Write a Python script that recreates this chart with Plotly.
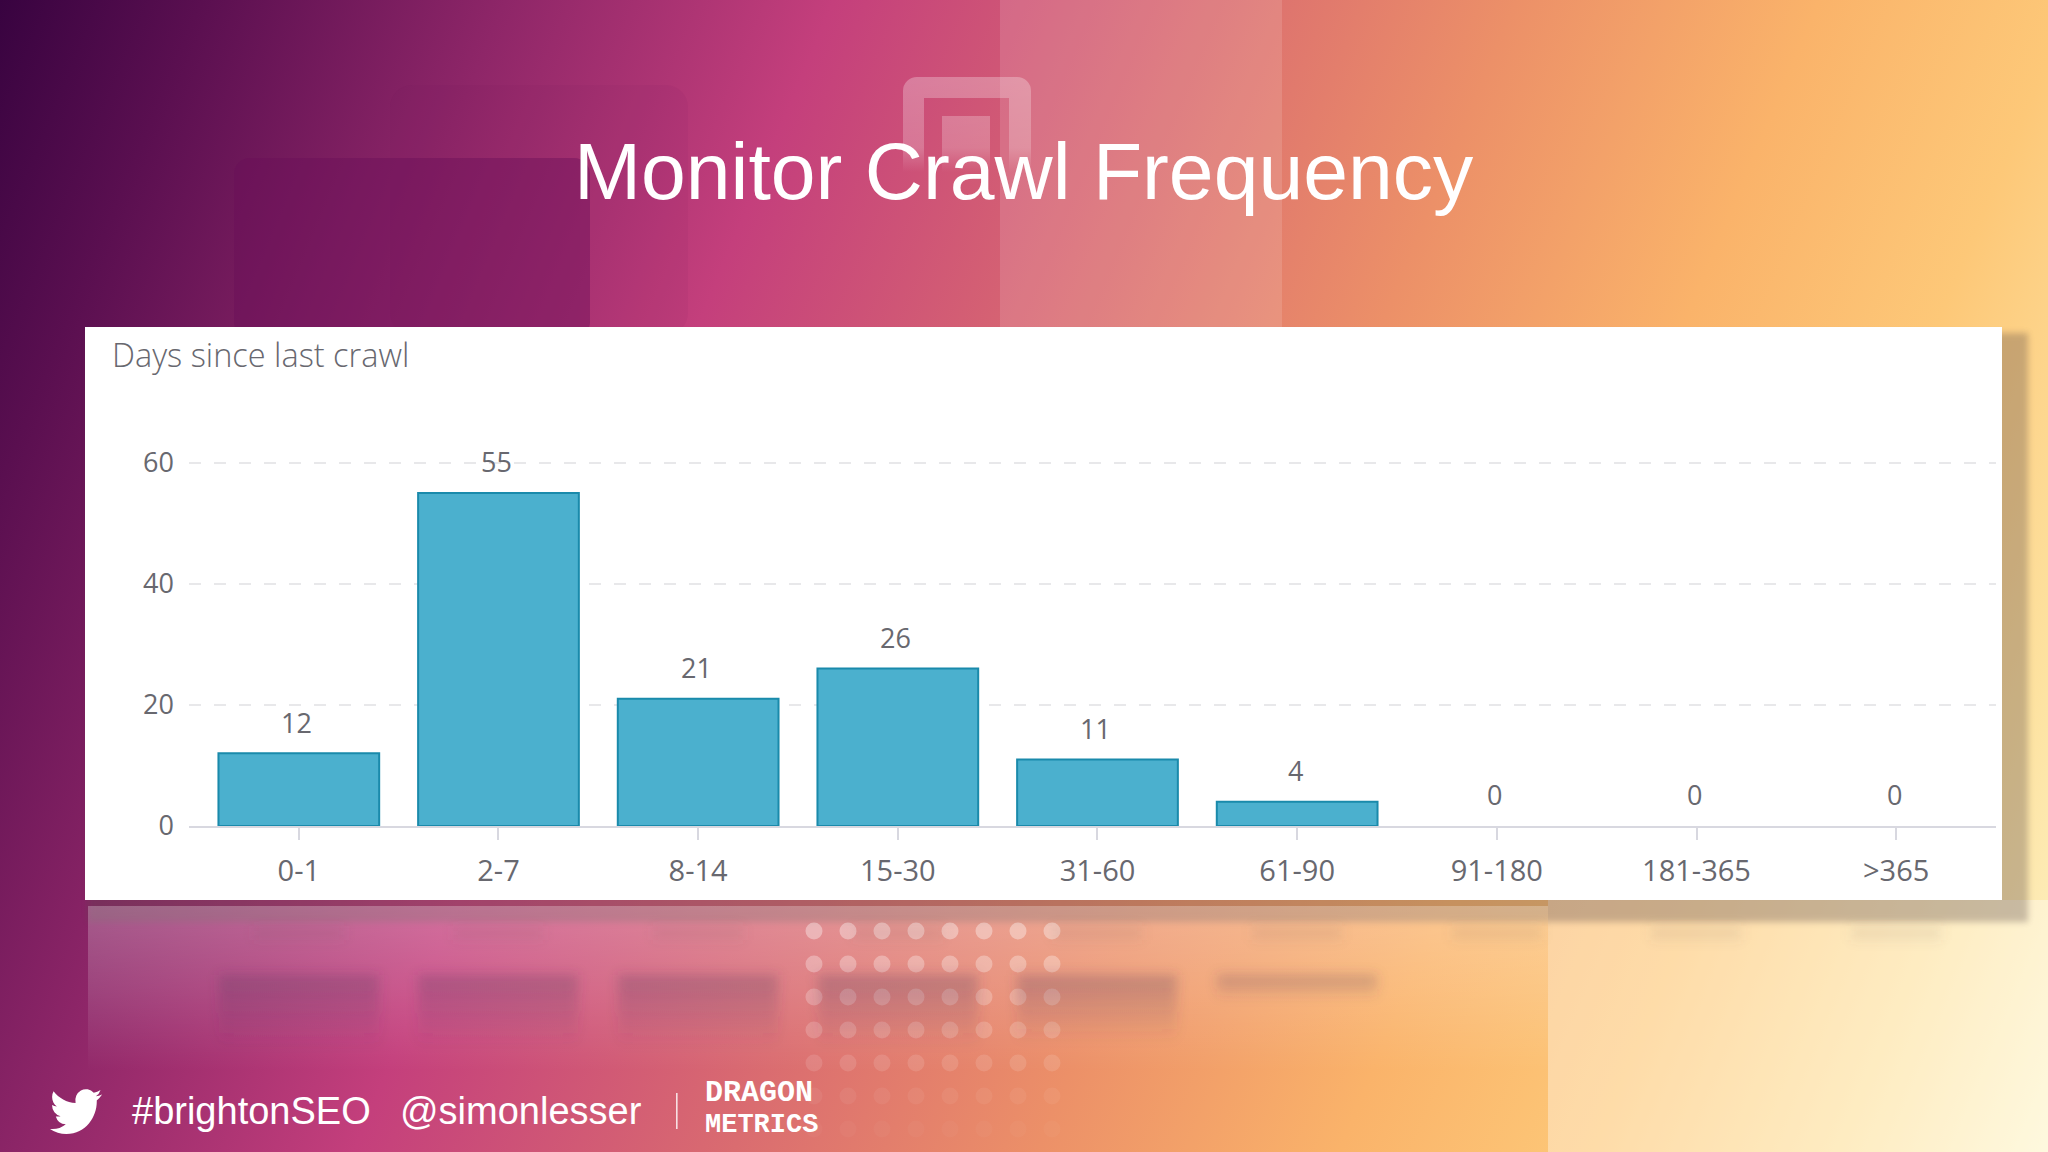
import base64
import plotly.graph_objects as go

# chart data
categories = ["0-1", "2-7", "8-14", "15-30", "31-60", "61-90", "91-180", "181-365", ">365"]
crawl_counts = [12, 55, 21, 26, 11, 4, 0, 0, 0]
y_ticks = [0, 20, 40, 60]

title_text = "Monitor Crawl Frequency"
card_title = "Days since last crawl"
hashtag = "#brightonSEO"
handle = "@simonlesser"
logo_lines = ["DRAGON", "METRICS"]

W, H = 2048, 1152
CARD = (85, 327, 2002, 900)
PLOT_X = (189, 1996)
Y_ZERO = 826
PX_PER_UNIT = 6.055
Y_TOP = 60.4  # a bit over 60 so the top gridline still gets drawn
X_RANGE = [-0.55, 8.5]

BIRD = ("M23.953 4.57a10 10 0 01-2.825.775 4.958 4.958 0 002.163-2.723c-.951.555-2.005.959-3.127 1.184"
        "a4.92 4.92 0 00-8.384 4.482C7.69 8.095 4.067 6.13 1.64 3.162a4.822 4.822 0 00-.666 2.475"
        "c0 1.71.87 3.213 2.188 4.096a4.904 4.904 0 01-2.228-.616v.06a4.923 4.923 0 003.946 4.827"
        " 4.996 4.996 0 01-2.212.085 4.936 4.936 0 004.604 3.417 9.867 9.867 0 01-6.102 2.105"
        "c-.39 0-.779-.023-1.17-.067a13.995 13.995 0 007.557 2.209c9.053 0 13.998-7.496 13.998-13.985"
        " 0-.21 0-.42-.015-.63A9.935 9.935 0 0024 4.59z")


# slide artwork behind the chart, drawn as one svg picture
def background_svg():
    stops = [(0, "#380340"), (0.08, "#5a0f50"), (0.2, "#8e2668"), (0.33, "#c43f7c"),
             (0.48, "#da6c70"), (0.6, "#ec9068"), (0.72, "#fab36a"), (0.82, "#fdc878"),
             (0.92, "#fde2a0"), (1, "#fdf5cc")]
    stop_tags = "".join(f'<stop offset="{o}" stop-color="{c}"/>' for o, c in stops)
    parts = [
        f'<svg xmlns="http://www.w3.org/2000/svg" width="{W}" height="{H}" viewBox="0 0 {W} {H}">',
        '<defs>',
        f'<linearGradient id="bg" gradientUnits="userSpaceOnUse" x1="0" y1="0" x2="2153" y2="898">{stop_tags}</linearGradient>',
        '<linearGradient id="refl" x1="0" y1="0" x2="0" y2="1">'
        '<stop offset="0" stop-color="#5a3a60" stop-opacity="0.3"/>'
        '<stop offset="1" stop-color="#5a3a60" stop-opacity="0"/></linearGradient>',
        '<linearGradient id="haze" x1="0" y1="0" x2="0" y2="1">'
        '<stop offset="0" stop-color="#ffffff" stop-opacity="0.26"/>'
        '<stop offset="0.5" stop-color="#ffffff" stop-opacity="0.14"/>'
        '<stop offset="1" stop-color="#ffffff" stop-opacity="0"/></linearGradient>',
        '<linearGradient id="icon" gradientUnits="userSpaceOnUse" x1="0" y1="75" x2="0" y2="172">'
        '<stop offset="0" stop-color="#ffffff" stop-opacity="0.28"/>'
        '<stop offset="0.75" stop-color="#ffffff" stop-opacity="0.22"/>'
        '<stop offset="1" stop-color="#ffffff" stop-opacity="0"/></linearGradient>',
        '<filter id="blur" x="-20%" y="-20%" width="140%" height="140%"><feGaussianBlur stdDeviation="6"/></filter>',
        '<filter id="soft" x="-5%" y="-5%" width="110%" height="110%"><feGaussianBlur stdDeviation="3"/></filter>',
        '</defs>',
        f'<rect width="{W}" height="{H}" fill="url(#bg)"/>',
        # ghost panels at the top
        '<rect x="1000" y="0" width="282" height="327" fill="#ffffff" opacity="0.13"/>',
        '<rect x="390" y="85" width="298" height="250" rx="22" fill="#6a0f58" opacity="0.06"/>',
        '<rect x="234" y="158" width="356" height="180" rx="16" fill="#6a0f58" opacity="0.42"/>',
        # frame icon, open at the bottom where it fades out
        '<path fill-rule="evenodd" fill="url(#icon)" d="M903 172V91a14 14 0 0 1 14-14h100a14 14 0 0 1 14 14V172Z'
        'M924 172H1009V98H924Z"/>',
        '<rect x="942" y="116" width="48" height="56" fill="url(#icon)"/>',
        # lighter panel bottom right
        '<rect x="1548" y="900" width="500" height="252" fill="#ffffff" opacity="0.36"/>',
        # card shadow, the card itself covers most of it
        '<rect x="88" y="333" width="1940" height="589" fill="#5a4a48" opacity="0.32" filter="url(#soft)"/>',
        # washed out reflection under the card
        '<rect x="88" y="906" width="1460" height="165" fill="url(#haze)"/>',
    ]
    # dots
    for row in range(7):
        for col in range(8):
            cx = 814 + col * 34
            cy = 931 + row * 33
            op = max(0.36 - row * 0.06, 0.03)
            parts.append(f'<circle cx="{cx:.1f}" cy="{cy:.1f}" r="8.5" fill="#ffffff" opacity="{op:.2f}"/>')
    # mirrored chart below the card
    unit = (PLOT_X[1] - PLOT_X[0]) / (X_RANGE[1] - X_RANGE[0])
    parts.append('<g filter="url(#blur)">')
    for i, v in enumerate(crawl_counts):
        cx = PLOT_X[0] + (i - X_RANGE[0]) * unit
        parts.append(f'<rect x="{cx - 45:.0f}" y="926" width="90" height="14" fill="#6a5a60" opacity="0.1"/>')
        if v > 0:
            h = min(v * 6.05, 72)
            parts.append(f'<rect x="{cx - 80:.0f}" y="975" width="160" height="{h:.0f}" fill="url(#refl)"/>')
    parts.append('</g>')
    parts.append(f'<path d="{BIRD}" fill="#ffffff" transform="translate(50 1084) scale(2.17 2.3)"/>')
    parts.append('<rect x="676" y="1093" width="1.6" height="36" fill="#ffffff" opacity="0.8"/>')
    parts.append('</svg>')
    return "".join(parts)


bg_uri = "data:image/svg+xml;base64," + base64.b64encode(background_svg().encode()).decode()

fig = go.Figure(go.Bar(
    x=categories,
    y=crawl_counts,
    width=0.805,
    marker=dict(color="#4bb0ce", line=dict(color="#1a8aab", width=[2 if v else 0 for v in crawl_counts])),
    showlegend=False,
    hoverinfo="x+y",
))

tick_font = dict(family="Open Sans", size=27, color="#68686f")


def slide_text(px, py, text, font, xanchor="left"):
    return dict(x=px / W, y=1 - py / H, xref="paper", yref="paper", text=text, showarrow=False,
                xanchor=xanchor, yanchor="middle", font=font)


# value labels sit further above the bars than plotly's own outside text
annotations = [
    dict(x=c, y=v, text=str(v), showarrow=False, yshift=31, xshift=-2, yanchor="middle",
         font=tick_font, xref="x", yref="y")
    for c, v in zip(categories, crawl_counts)
]
annotations += [
    slide_text(1024, 171, title_text, dict(family="Liberation Sans", size=80.5, color="#ffffff"), "center"),
    slide_text(110, 354, card_title, dict(family="Open Sans", size=32.5, color="#68686f", weight=300)),
    slide_text(130, 1111, hashtag, dict(family="Liberation Sans", size=38, color="#ffffff")),
    slide_text(398, 1111, handle, dict(family="Liberation Sans", size=38, color="#ffffff")),
    slide_text(703, 1093, "<b>" + logo_lines[0] + "</b>", dict(family="Liberation Mono", size=30, color="#ffffff")),
    slide_text(703, 1125, "<b>" + logo_lines[1] + "</b>", dict(family="Liberation Mono", size=27, color="#ffffff")),
]

y_top_px = Y_ZERO - Y_TOP * PX_PER_UNIT

fig.update_layout(
    width=W,
    height=H,
    margin=dict(l=0, r=0, t=0, b=0, autoexpand=False),
    paper_bgcolor="#ffffff",
    plot_bgcolor="rgba(0,0,0,0)",
    images=[dict(source=bg_uri, xref="paper", yref="paper", x=0, y=1, sizex=1, sizey=1,
                 xanchor="left", yanchor="top", sizing="stretch", layer="below")],
    shapes=[dict(type="rect", xref="paper", yref="paper", layer="below",
                 x0=CARD[0] / W, x1=CARD[2] / W, y0=1 - CARD[3] / H, y1=1 - CARD[1] / H,
                 fillcolor="#ffffff", line=dict(width=0))],
    annotations=annotations,
    xaxis=dict(
        domain=[PLOT_X[0] / W, PLOT_X[1] / W],
        range=X_RANGE,
        type="category",
        categoryorder="array",
        categoryarray=categories,
        automargin=False,
        showgrid=False,
        showline=True,
        linecolor="#d8d8e0",
        linewidth=2,
        ticks="outside",
        ticklen=12,
        tickwidth=2,
        tickcolor="#d8d8e0",
        tickfont=dict(family="Open Sans", size=29, color="#68686f"),
        ticklabelstandoff=6,
        zeroline=False,
    ),
    yaxis=dict(
        domain=[1 - Y_ZERO / H, 1 - y_top_px / H],
        range=[0, Y_TOP],
        tickvals=y_ticks,
        automargin=False,
        showgrid=True,
        gridcolor="#e8e8ea",
        gridwidth=2,
        griddash="12px,13px",
        zeroline=False,
        showline=False,
        ticks="",
        tickfont=tick_font,
        ticklabelstandoff=14,
    ),
)

# pin the figure to the window corner, the page margin would push it off otherwise
fig.write_html(
    "out.html",
    config={"displayModeBar": False},
    post_script="document.body.style.margin='0';"
                "var gd=document.getElementById('{plot_id}');"
                "gd.style.position='fixed';gd.style.left='0';gd.style.top='0';",
)
